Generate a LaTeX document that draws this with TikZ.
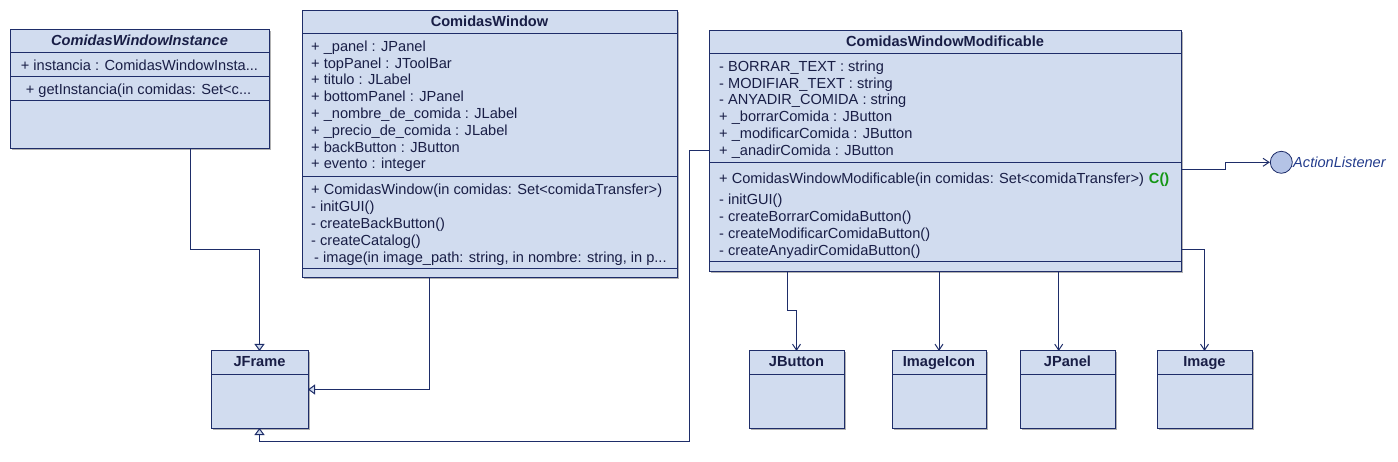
\documentclass[tikz,border=0pt]{standalone}
\usepackage{fontspec}
\setmainfont{Liberation Sans}
\usetikzlibrary{arrows.meta,positioning,calc,shadows}
\definecolor{umlfill}{RGB}{209,220,239}
\definecolor{umlborder}{RGB}{30,45,105}
\definecolor{umltext}{RGB}{25,30,70}
\definecolor{umlgreen}{RGB}{20,150,20}
\definecolor{ifacefill}{RGB}{180,195,230}
\definecolor{ifacetext}{RGB}{35,60,140}

\begin{document}
\begin{tikzpicture}[x=1pt, y=-1pt,
    classbox/.style={rectangle, draw=umlborder, fill=umlfill, line width=1pt, inner sep=0pt, outer sep=0pt, anchor=north west,
      drop shadow={shadow xshift=1.5pt, shadow yshift=-1.5pt, fill=black!30, opacity=1}},
    classname/.style={anchor=base, inner sep=0pt, text=umltext, font=\fontsize{14.6}{16.8}\selectfont\bfseries},
    members/.style={anchor=north west, align=left, inner sep=0pt, text=umltext, font=\fontsize{14.6}{16.8}\selectfont, execute at begin node=\strut},
    sep/.style={draw=umlborder, line width=1pt},
    inherit/.style={draw=umlborder, line width=1pt, -{Triangle[length=7pt, width=10pt, fill=umlfill]}},
    uses/.style={draw=umlborder, line width=1pt, -{Straight Barb[length=6pt, width=8pt]}}]
    \useasboundingbox (0,0) rectangle (1398,462);

    % ComidasWindowInstance
    \node[classbox, minimum width=259pt, minimum height=119pt] (cwi) at (10,30) {};
    \node[classname, font=\fontsize{14.6}{16.8}\selectfont\bfseries\itshape] (cwititle) at ($(cwi.north)+(0,15.7)$) {ComidasWindowInstance};
    \draw[sep] ($(cwi.north west)+(0,23)$) -- ($(cwi.north east)+(0,23)$);
    \draw[sep] ($(cwi.north west)+(0,47)$) -- ($(cwi.north east)+(0,47)$);
    \draw[sep] ($(cwi.north west)+(0,71)$) -- ($(cwi.north east)+(0,71)$);
    \node[members] (cwiattr) at ($(cwi.north west)+(10.7,28.8)$) {+ instancia : ComidasWindowInsta...};
    \node[members] (cwiops) at ($(cwi.north west)+(15.7,52.5)$) {+ getInstancia(in comidas: Set<c...};

    % ComidasWindow
    \node[classbox, minimum width=375pt, minimum height=267pt] (cw) at (302,11) {};
    \node[classname] (cwtitle) at ($(cw.north)+(0,15.7)$) {ComidasWindow};
    \draw[sep] ($(cw.north west)+(0,23)$) -- ($(cw.north east)+(0,23)$);
    \draw[sep] ($(cw.north west)+(0,166)$) -- ($(cw.north east)+(0,166)$);
    \draw[sep] ($(cw.north west)+(0,258)$) -- ($(cw.north east)+(0,258)$);
    \node[members] (cwattr) at ($(cw.north west)+(9,29.5)$) {+ \_panel : JPanel\\
      + topPanel : JToolBar\\
      + titulo : JLabel\\
      + bottomPanel : JPanel\\
      + \_nombre\_de\_comida : JLabel\\
      + \_precio\_de\_comida : JLabel\\
      + backButton : JButton\\
      + evento : integer};
    \node[members] (cwops) at ($(cw.north west)+(9,173.2)$) {+ ComidasWindow(in comidas: Set<comidaTransfer>)\\
      - initGUI()\\
      - createBackButton()\\
      - createCatalog()\\
      \hspace{3pt}- image(in image\_path: string, in nombre: string, in p...};

    % ComidasWindowModificable
    \node[classbox, minimum width=472pt, minimum height=241pt] (cwm) at (709,31) {};
    \node[classname] (cwmtitle) at ($(cwm.north)+(0,15.7)$) {ComidasWindowModificable};
    \draw[sep] ($(cwm.north west)+(0,23)$) -- ($(cwm.north east)+(0,23)$);
    \draw[sep] ($(cwm.north west)+(0,132)$) -- ($(cwm.north east)+(0,132)$);
    \draw[sep] ($(cwm.north west)+(0,231)$) -- ($(cwm.north east)+(0,231)$);
    \node[members] (cwmattr) at ($(cwm.north west)+(10,29.5)$) {- BORRAR\_TEXT : string\\
      - MODIFIAR\_TEXT : string\\
      - ANYADIR\_COMIDA : string\\
      + \_borrarComida : JButton\\
      + \_modificarComida : JButton\\
      + \_anadirComida : JButton};
    \node[members] (cwmops) at ($(cwm.north west)+(10,142.2)$) {+ ComidasWindowModificable(in comidas: Set<comidaTransfer>)\hspace{5pt}{\color{umlgreen}\bfseries C()}\\[4.2pt]
      - initGUI()\\
      - createBorrarComidaButton()\\
      - createModificarComidaButton()\\
      - createAnyadirComidaButton()};

    % library classes
    \node[classbox, minimum width=97pt, minimum height=77pt] (jframe) at (211,351) {};
    \node[classname] (jframetitle) at ($(jframe.north)+(0,15.7)$) {JFrame};
    \draw[sep] ($(jframe.north west)+(0,23)$) -- ($(jframe.north east)+(0,23)$);

    \node[classbox, minimum width=95pt, minimum height=77pt] (jbutton) at (749,351) {};
    \node[classname] (jbuttontitle) at ($(jbutton.north)+(0,15.7)$) {JButton};
    \draw[sep] ($(jbutton.north west)+(0,23)$) -- ($(jbutton.north east)+(0,23)$);

    \node[classbox, minimum width=94pt, minimum height=77pt] (imageicon) at (892,351) {};
    \node[classname] (imageicontitle) at ($(imageicon.north)+(0,15.7)$) {ImageIcon};
    \draw[sep] ($(imageicon.north west)+(0,23)$) -- ($(imageicon.north east)+(0,23)$);

    \node[classbox, minimum width=95pt, minimum height=77pt] (jpanel) at (1020,351) {};
    \node[classname] (jpaneltitle) at ($(jpanel.north)+(0,15.7)$) {JPanel};
    \draw[sep] ($(jpanel.north west)+(0,23)$) -- ($(jpanel.north east)+(0,23)$);

    \node[classbox, minimum width=95pt, minimum height=77pt] (image) at (1157,351) {};
    \node[classname] (imagetitle) at ($(image.north)+(0,15.7)$) {Image};
    \draw[sep] ($(image.north west)+(0,23)$) -- ($(image.north east)+(0,23)$);

    % interface
    \node[circle, draw=umlborder, fill=ifacefill, line width=0.8pt, minimum size=22pt, inner sep=0pt] (al) at (1281.3,162.3) {};
    \node[anchor=base west, inner sep=0pt, text=ifacetext, font=\fontsize{14.6}{16.8}\selectfont\itshape] (altext) at (1293,167.7) {ActionListener};

    % generalizations
    \coordinate (cwiout) at ($(cwi.south west)+(180,0)$);
    \draw[inherit] (cwiout) -- ++(0,101) -| (jframe.north);
    \coordinate (cwout) at ($(cw.south west)+(127.5,0)$);
    \draw[inherit] (cwout) |- (jframe.east);
    \coordinate (cwmleft) at ($(cwm.north west)+(0,119.7)$);
    \draw[inherit] (cwmleft) -- ++(-20,0) |- ($(jframe.south)+(0,13)$) -- (jframe.south);

    % dependencies
    \coordinate (cwmbtn) at ($(cwm.south west)+(78.5,0)$);
    \draw[uses] (cwmbtn) -- ++(0,39) -| (jbutton.north);
    \draw[uses] (cwm.south -| imageicon.north) -- (imageicon.north);
    \coordinate (jpanelin) at ($(jpanel.north west)+(38.7,0)$);
    \draw[uses] (cwm.south -| jpanelin) -- (jpanelin);
    \coordinate (cwmimg) at ($(cwm.north east)+(0,219)$);
    \draw[uses] (cwmimg) -| (image.north);
    \coordinate (cwmal) at ($(cwm.north east)+(0,139)$);
    \draw[uses] (cwmal) -- ++(44,0) |- (al.west);
\end{tikzpicture}
\end{document}
